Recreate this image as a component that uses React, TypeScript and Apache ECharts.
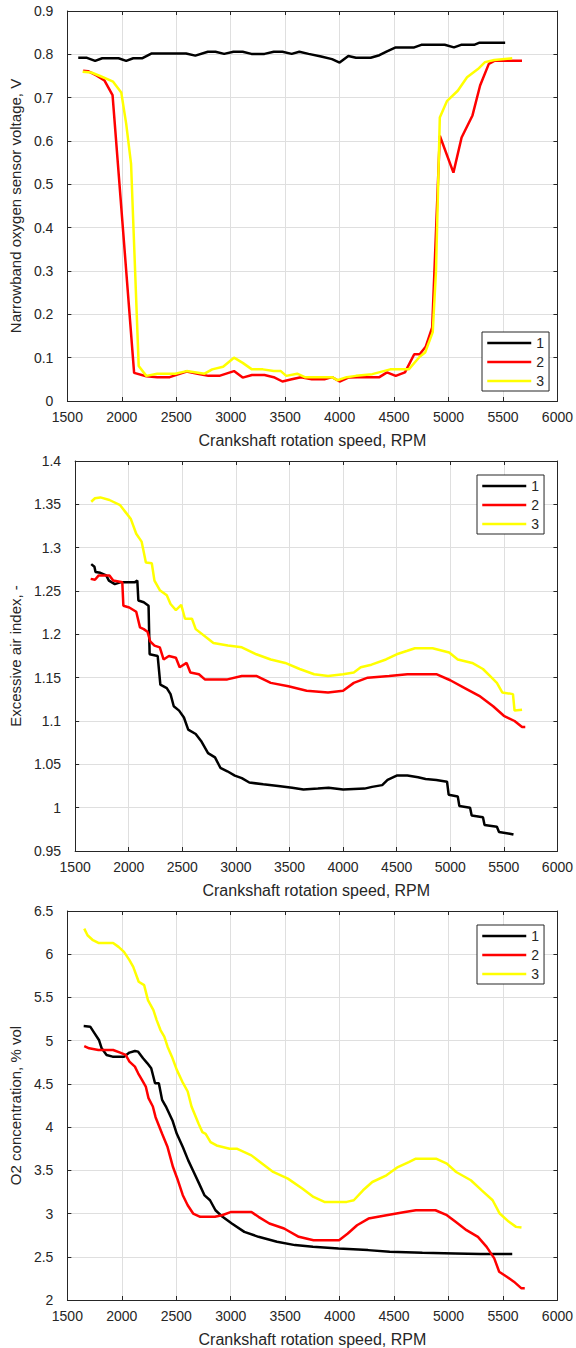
import React, { useEffect, useRef } from "react";
import * as echarts from "echarts";

// ---------- Plot 1: narrowband oxygen sensor voltage, V ----------
const voltRpm1 = [1600,1680,1755,1820,1970,2040,2105,2190,2275,2590,2675,2790,2860,2940,3025,3110,3190,3310,3395,3475,3560,3630,3715,3830,3930,4000,4080,4150,4285,4365,4435,4515,4685,4750,4965,5050,5115,5235,5285,5520];
const voltVal1 = [0.792,0.792,0.785,0.791,0.791,0.785,0.791,0.791,0.802,0.802,0.797,0.806,0.806,0.801,0.806,0.806,0.801,0.801,0.806,0.806,0.801,0.806,0.801,0.795,0.789,0.781,0.796,0.792,0.792,0.798,0.807,0.816,0.816,0.822,0.822,0.816,0.822,0.822,0.827,0.827];
const voltRpm2 = [1645,1690,1770,1840,1915,2113,2225,2325,2440,2510,2595,2695,2795,2895,3030,3110,3195,3310,3395,3475,3560,3645,3745,3860,3930,4000,4080,4165,4365,4435,4515,4600,4685,4735,4790,4850,4920,5045,5120,5220,5290,5370,5420,5675];
const voltVal2 = [0.762,0.761,0.751,0.74,0.706,0.065,0.057,0.055,0.055,0.061,0.068,0.063,0.058,0.058,0.069,0.054,0.06,0.06,0.055,0.045,0.05,0.055,0.05,0.05,0.055,0.045,0.054,0.055,0.055,0.066,0.058,0.066,0.108,0.108,0.125,0.17,0.612,0.527,0.608,0.659,0.728,0.778,0.785,0.785];
const voltRpm3 = [1640,1720,1800,1920,1995,2040,2085,2155,2225,2325,2490,2595,2760,2830,2930,3030,3110,3195,3295,3395,3460,3510,3610,3680,3930,3980,4065,4150,4300,4465,4635,4735,4785,4855,4885,4920,4985,5085,5170,5270,5335,5420,5585];
const voltVal3 = [0.76,0.758,0.75,0.737,0.712,0.64,0.547,0.081,0.058,0.063,0.063,0.069,0.063,0.073,0.079,0.1,0.088,0.073,0.073,0.069,0.069,0.058,0.063,0.055,0.055,0.048,0.055,0.058,0.062,0.073,0.073,0.102,0.112,0.159,0.3,0.654,0.692,0.716,0.747,0.766,0.782,0.787,0.791];

// ---------- Plot 2: excessive air index ----------
const lambdaRpm1 = [1650,1680,1690,1735,1790,1815,1870,1920,2055,2080,2090,2140,2185,2195,2270,2295,2355,2390,2420,2470,2515,2555,2625,2675,2740,2805,2855,2920,2990,3055,3125,3255,3395,3525,3630,3765,3865,4000,4200,4270,4365,4415,4500,4600,4700,4770,4870,4970,4985,5070,5085,5185,5200,5305,5320,5435,5455,5555,5590];
const lambdaVal1 = [1.281,1.278,1.272,1.271,1.268,1.262,1.258,1.26,1.26,1.262,1.239,1.237,1.233,1.177,1.175,1.142,1.138,1.131,1.117,1.112,1.104,1.09,1.085,1.077,1.063,1.058,1.046,1.042,1.037,1.034,1.029,1.027,1.025,1.023,1.021,1.022,1.023,1.021,1.022,1.024,1.026,1.032,1.037,1.037,1.035,1.033,1.032,1.03,1.015,1.013,1.002,1.0,0.991,0.989,0.98,0.978,0.972,0.97,0.969];
const lambdaRpm2 = [1645,1685,1720,1820,1855,1940,1950,2005,2070,2105,2140,2175,2200,2240,2290,2325,2375,2440,2475,2540,2575,2655,2710,2920,3055,3190,3325,3490,3660,3860,4000,4100,4230,4430,4600,4870,5000,5135,5270,5400,5500,5600,5670,5700];
const lambdaVal2 = [1.264,1.263,1.268,1.268,1.262,1.26,1.233,1.231,1.226,1.208,1.206,1.203,1.192,1.187,1.185,1.171,1.175,1.173,1.162,1.167,1.156,1.154,1.148,1.148,1.152,1.152,1.144,1.14,1.135,1.133,1.135,1.144,1.15,1.152,1.154,1.154,1.147,1.138,1.129,1.117,1.106,1.1,1.093,1.093];
const lambdaRpm3 = [1650,1685,1735,1820,1920,1970,2020,2070,2120,2160,2215,2240,2290,2355,2390,2440,2490,2525,2590,2625,2740,2790,2925,3055,3190,3325,3460,3595,3730,3860,4000,4100,4165,4265,4400,4500,4600,4670,4835,4990,5070,5205,5305,5370,5435,5485,5585,5600,5670];
const lambdaVal3 = [1.353,1.357,1.358,1.355,1.349,1.341,1.333,1.316,1.307,1.283,1.282,1.262,1.251,1.245,1.235,1.228,1.234,1.218,1.218,1.206,1.195,1.19,1.187,1.185,1.177,1.171,1.167,1.16,1.154,1.152,1.154,1.156,1.162,1.165,1.171,1.177,1.181,1.184,1.184,1.179,1.171,1.167,1.16,1.152,1.144,1.133,1.131,1.112,1.113];

// ---------- Plot 3: O2 concentration, % vol ----------
const o2Rpm1 = [1650,1710,1750,1790,1815,1860,1915,2020,2070,2120,2150,2195,2235,2270,2305,2340,2370,2405,2465,2505,2560,2610,2660,2710,2760,2810,2860,2925,3010,3125,3255,3425,3590,3755,3990,4260,4460,4760,5060,5295,5585];
const o2Val1 = [5.169,5.162,5.085,5.008,4.912,4.835,4.815,4.815,4.862,4.881,4.873,4.796,4.738,4.681,4.508,4.508,4.315,4.238,4.077,3.923,3.769,3.615,3.48,3.346,3.21,3.154,3.038,2.962,2.885,2.788,2.731,2.673,2.635,2.615,2.596,2.577,2.558,2.546,2.538,2.531,2.531];
const o2Rpm2 = [1655,1700,1785,1920,1985,2035,2070,2120,2150,2185,2220,2245,2285,2310,2370,2420,2470,2515,2560,2605,2655,2720,2855,2920,3005,3190,3255,3355,3490,3625,3760,3995,4075,4160,4265,4430,4600,4700,4880,4985,5065,5165,5270,5350,5420,5465,5535,5600,5670,5700];
const o2Val2 = [4.938,4.912,4.892,4.892,4.862,4.835,4.758,4.7,4.623,4.546,4.469,4.335,4.238,4.115,3.923,3.769,3.538,3.385,3.212,3.096,3.0,2.962,2.962,2.981,3.019,3.019,2.962,2.885,2.827,2.731,2.692,2.692,2.769,2.865,2.942,2.981,3.019,3.038,3.038,2.981,2.904,2.808,2.731,2.615,2.481,2.327,2.269,2.212,2.135,2.135];
const o2Rpm3 = [1655,1685,1735,1785,1920,1970,2020,2070,2105,2155,2205,2240,2290,2320,2355,2390,2420,2460,2505,2555,2605,2640,2705,2740,2770,2815,2870,2990,3055,3190,3290,3390,3525,3660,3760,3860,4065,4130,4215,4300,4430,4535,4635,4700,4885,4985,5070,5205,5305,5405,5470,5555,5620,5670];
const o2Val3 = [6.296,6.219,6.162,6.131,6.131,6.085,6.027,5.931,5.854,5.681,5.642,5.469,5.354,5.238,5.123,5.046,4.931,4.815,4.662,4.527,4.412,4.238,4.038,3.942,3.923,3.827,3.788,3.75,3.75,3.673,3.577,3.481,3.404,3.288,3.192,3.135,3.135,3.154,3.269,3.365,3.442,3.538,3.596,3.635,3.635,3.577,3.481,3.385,3.269,3.154,3.0,2.904,2.846,2.838];

const seriesNames = ["1", "2", "3"];
const seriesColors = ["#000000", "#ff0000", "#ffff00"];
const xTitle = "Crankshaft rotation speed, RPM";
const yTitles = ["Narrowband oxygen sensor voltage, V", "Excessive air index, -", "O2 concentration, % vol"];
const yMins = [0, 0.95, 2];
const yMaxs = [0.9, 1.4, 6.5];
const yIntervals = [0.1, 0.05, 0.5];
const xMin = 1500;
const xMax = 6000;
const xInterval = 500;

const plotData = [
  [[voltRpm1, voltVal1], [voltRpm2, voltVal2], [voltRpm3, voltVal3]],
  [[lambdaRpm1, lambdaVal1], [lambdaRpm2, lambdaVal2], [lambdaRpm3, lambdaVal3]],
  [[o2Rpm1, o2Val1], [o2Rpm2, o2Val2], [o2Rpm3, o2Val3]],
];

const FONT = "'Liberation Sans', Arial, Helvetica, sans-serif";
const AXIS_COLOR = "#262626";
const GRID_COLOR = "#dfdfdf";

const gridTops = [11, 461, 911];
const gridHeight = 390;
const yNameGaps = [33, 44, 33];
const legendPos = [
  { left: 482, top: 332 },
  { left: 477, top: 475 },
  { left: 477, top: 925 },
];

function zip(xs: number[], ys: number[]) {
  return xs.map((x, i) => [x, ys[i]]);
}

export default function App() {
  const ref = useRef<HTMLDivElement>(null);
  useEffect(() => {
    if (!ref.current) return;
    const chart = echarts.init(ref.current, undefined, { renderer: "svg" });

    const grid: any[] = [];
    const xAxis: any[] = [];
    const yAxis: any[] = [];
    const series: any[] = [];
    const legend: any[] = [];

    for (let g = 0; g < 3; g++) {
      grid.push({ left: 62, right: 18, top: gridTops[g], height: gridHeight, containLabel: false });
      const tick = { show: true, inside: true, length: 4, lineStyle: { color: AXIS_COLOR, width: 1 } };
      const line = { show: true, onZero: false, lineStyle: { color: AXIS_COLOR, width: 1 } };
      xAxis.push({
        type: "value", gridIndex: g, position: "bottom", min: xMin, max: xMax, interval: xInterval,
        axisLine: line, axisTick: tick,
        axisLabel: { color: AXIS_COLOR, fontSize: 14, fontFamily: FONT, margin: 9, formatter: (v: number) => String(v) },
        splitLine: { show: true, lineStyle: { color: GRID_COLOR, width: 1 } },
        name: xTitle, nameLocation: "middle", nameGap: 31,
        nameTextStyle: { color: AXIS_COLOR, fontSize: 16, fontFamily: FONT },
      });
      xAxis.push({
        type: "value", gridIndex: g, position: "top", min: xMin, max: xMax, interval: xInterval,
        axisLine: line, axisTick: tick, axisLabel: { show: false }, splitLine: { show: false },
      });
      yAxis.push({
        type: "value", gridIndex: g, position: "left", min: yMins[g], max: yMaxs[g], interval: yIntervals[g],
        axisLine: line, axisTick: tick,
        axisLabel: { color: AXIS_COLOR, fontSize: 14, fontFamily: FONT, margin: 14 },
        splitLine: { show: true, lineStyle: { color: GRID_COLOR, width: 1 } },
        name: yTitles[g], nameLocation: "middle", nameGap: yNameGaps[g], nameRotate: 90,
        nameTextStyle: { color: AXIS_COLOR, fontSize: 15, fontFamily: FONT },
      });
      yAxis.push({
        type: "value", gridIndex: g, position: "right", min: yMins[g], max: yMaxs[g], interval: yIntervals[g],
        axisLine: line, axisTick: tick, axisLabel: { show: false }, splitLine: { show: false },
      });
      for (let s = 0; s < 3; s++) {
        const [xs, ys] = plotData[g][s];
        series.push({
          type: "line", name: seriesNames[s], xAxisIndex: g * 2, yAxisIndex: g * 2,
          data: zip(xs as number[], ys as number[]),
          symbol: "none", showSymbol: false,
          lineStyle: { color: seriesColors[s], width: 2.5 },
          itemStyle: { color: seriesColors[s] },
          z: 3 + s,
        });
      }
      legend.push({
        orient: "vertical", left: legendPos[g].left, top: legendPos[g].top,
        itemWidth: 44, itemHeight: 14, itemGap: 5,
        padding: [4, 5, 3, 4],
        borderColor: AXIS_COLOR, borderWidth: 1, backgroundColor: "#ffffff",
        itemStyle: { opacity: 0 },
        lineStyle: { width: 2.5 },
        textStyle: { fontSize: 14, color: AXIS_COLOR, fontFamily: FONT },
        data: seriesNames, selectedMode: false,
      });
    }

    chart.setOption({
      animation: false,
      backgroundColor: "#ffffff",
      grid, xAxis, yAxis, series, legend,
    });
    return () => chart.dispose();
  }, []);

  return (
    <div
      ref={ref}
      style={{ position: "absolute", left: 0, top: 0, width: 576, height: 1348, background: "#fff" }}
    />
  );
}
